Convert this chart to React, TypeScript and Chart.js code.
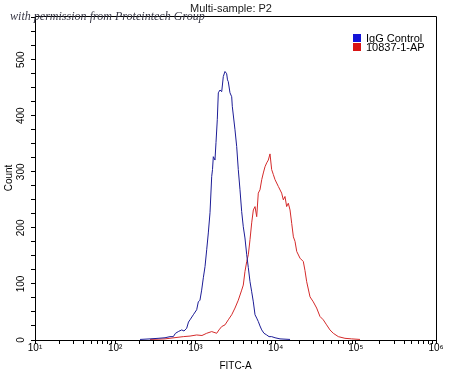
import React, { useEffect, useRef } from "react";
import { Chart, registerables } from "chart.js";

Chart.register(...registerables);

const TITLE = "Multi-sample: P2";
const WATERMARK = "with permission from Proteintech Group";
const X_TITLE = "FITC-A";
const Y_TITLE = "Count";
const SERIES_LABELS = ["IgG Control", "10837-1-AP"];
const LINE_COLORS = ["#1c1c96", "#d42a2a"];
const LEGEND_COLORS = ["#1414d8", "#d81414"];

const X_MIN = 10;
const X_MAX = 1000000;
const X_TICKS = [
  10, 20, 30, 40, 50, 60, 70, 80, 90,
  100, 200, 300, 400, 500, 600, 700, 800, 900,
  1000, 2000, 3000, 4000, 5000, 6000, 7000, 8000, 9000,
  10000, 20000, 30000, 40000, 50000, 60000, 70000, 80000, 90000,
  100000, 200000, 300000, 400000, 500000, 600000, 700000, 800000, 900000,
  1000000,
];
const X_MAJOR = [10, 100, 1000, 10000, 100000, 1000000];
const X_TICK_LABELS = ["10¹", "10²", "10³", "10⁴", "10⁵", "10⁶"];
const Y_MAX = 578;
const Y_STEP = 25;
const Y_LABEL_STEP = 100;

const BLUE_X = [
  204, 272, 342, 418, 482, 530, 565, 612, 675, 721,
  779, 820, 857, 942, 1038, 1087, 1140, 1197, 1256, 1318,
  1383, 1449, 1521, 1597, 1634, 1673, 1754, 1806, 1875, 1931,
  2027, 2128, 2228, 2339, 2455, 2513, 2570, 2698, 2835, 2884,
  3117, 3273, 3426, 3597, 3776, 3955, 4150, 4365, 4570, 4797,
  5035, 5276, 5538, 5814, 6084, 6387, 6714, 7166, 7745, 8277,
  8933, 9840, 11350, 15130,
];
const BLUE_Y = [
  1, 2, 3, 4, 6, 6, 12, 15, 18, 16,
  21, 32, 36, 45, 54, 68, 71, 89, 111, 131,
  161, 191, 227, 292, 304, 327, 321, 352, 393, 441,
  446, 443, 470, 479, 475, 464, 461, 441, 434, 417,
  375, 345, 304, 268, 229, 202, 182, 152, 129, 104,
  86, 68, 45, 39, 33, 25, 18, 12, 9, 6,
  6, 4, 2, 1,
];

const RED_X = [
  272, 418, 706, 857, 1038, 1208, 1383, 1597, 1844, 1968,
  2128, 2339, 2570, 2835, 3117, 3426, 3776, 3955, 4150, 4365,
  4570, 4797, 5035, 5276, 5538, 5814, 6084, 6387, 6714, 7031,
  7376, 7745, 8110, 8515, 8933, 9380, 9840, 10810, 11900, 12480,
  13090, 13740, 14400, 15130, 15880, 16660, 17460, 18340, 20140, 22150,
  23240, 24410, 26850, 29530, 32500, 35750, 39320, 43250, 47620, 52390,
  60530, 73280, 88900, 112800,
];
const RED_Y = [
  1, 2, 6, 7, 9, 8, 12, 15, 12, 18,
  24, 27, 36, 45, 57, 71, 89, 98, 122, 140,
  152, 179, 209, 232, 238, 220, 262, 268, 286, 298,
  309, 316, 321, 332, 304, 295, 286, 274, 262, 250,
  256, 238, 244, 232, 208, 184, 176, 158, 146, 140,
  124, 104, 77, 68, 57, 42, 36, 27, 18, 12,
  6, 3, 2, 1,
];

const FONT = '"Liberation Sans", Arial, sans-serif';

const decorPlugin = {
  id: "decor",
  afterDraw(chart: any) {
    const { ctx, chartArea } = chart;
    const l = Math.round(chartArea.left - 0.5) + 0.5;
    const t = Math.round(chartArea.top - 0.5) + 0.5;
    const r = Math.round(chartArea.right - 0.5) + 0.5;
    const b = Math.round(chartArea.bottom - 0.5) + 0.5;
    ctx.save();
    ctx.strokeStyle = "#000";
    ctx.lineWidth = 1;
    ctx.beginPath();
    ctx.moveTo(l, t);
    ctx.lineTo(r, t);
    ctx.lineTo(r, b);
    ctx.stroke();

    // title
    ctx.fillStyle = "#1a1a1a";
    ctx.font = `11px ${FONT}`;
    ctx.textAlign = "center";
    ctx.textBaseline = "alphabetic";
    ctx.fillText(TITLE, 231, 12);

    // watermark
    ctx.font = `italic 13px "Liberation Serif", serif`;
    const w = ctx.measureText(WATERMARK).width;
    const size = (13 * 195) / w;
    ctx.font = `italic ${size.toFixed(2)}px "Liberation Serif", serif`;
    ctx.fillStyle = "#3a3a48";
    ctx.textAlign = "left";
    ctx.fillText(WATERMARK, 10, 20);

    // legend
    ctx.font = `11px ${FONT}`;
    ctx.textBaseline = "middle";
    const ys = [34, 43];
    chart.data.datasets.forEach((ds: any, i: number) => {
      ctx.fillStyle = LEGEND_COLORS[i];
      ctx.fillRect(353, ys[i], 8, 8);
      ctx.fillStyle = "#000";
      ctx.fillText(ds.label, 366, ys[i] + 4.5);
    });
    ctx.restore();
  },
};

export default function App() {
  const ref = useRef<HTMLCanvasElement>(null);
  useEffect(() => {
    const canvas = ref.current!;
    Chart.defaults.font.family = FONT;
    const chart = new Chart(canvas, {
      type: "line",
      data: {
        datasets: [
          {
            label: SERIES_LABELS[0],
            data: BLUE_X.map((x, i) => ({ x, y: BLUE_Y[i] })),
            borderColor: LINE_COLORS[0],
            borderWidth: 1,
            pointRadius: 0,
            tension: 0,
            fill: false,
          },
          {
            label: SERIES_LABELS[1],
            data: RED_X.map((x, i) => ({ x, y: RED_Y[i] })),
            borderColor: LINE_COLORS[1],
            borderWidth: 1,
            pointRadius: 0,
            tension: 0,
            fill: false,
          },
        ],
      },
      options: {
        animation: false,
        responsive: false,
        devicePixelRatio: 1,
        layout: { padding: { top: 16, right: 14, left: 0, bottom: 0 } },
        plugins: {
          legend: { display: false },
          tooltip: { enabled: false },
          title: { display: false },
        },
        scales: {
          x: {
            type: "logarithmic",
            min: X_MIN,
            max: X_MAX,
            afterBuildTicks: (s: any) => {
              s.ticks = X_TICKS.map((v) => ({ value: v }));
            },
            afterFit: (s: any) => {
              s.height = 32;
            },
            grid: {
              display: true,
              drawOnChartArea: false,
              drawTicks: true,
              tickLength: 4,
              color: "#000",
              tickColor: "#000",
            },
            border: { display: true, color: "#000", width: 1 },
            ticks: {
              autoSkip: false,
              maxRotation: 0,
              minRotation: 0,
              padding: -2,
              color: "#000",
              font: { size: 10 },
              callback: (v: any) => {
                const i = X_MAJOR.indexOf(Number(v));
                return i >= 0 ? X_TICK_LABELS[i] : "";
              },
            },
            title: {
              display: true,
              text: X_TITLE,
              color: "#000",
              font: { size: 10 },
              padding: { top: 0, bottom: 0 },
            },
          },
          y: {
            type: "linear",
            min: 0,
            max: Y_MAX,
            afterFit: (s: any) => {
              s.width = 35;
            },
            grid: {
              display: true,
              drawOnChartArea: false,
              drawTicks: true,
              tickLength: 4,
              color: "#000",
              tickColor: "#000",
            },
            border: { display: true, color: "#000", width: 1 },
            ticks: {
              stepSize: Y_STEP,
              includeBounds: false,
              autoSkip: false,
              minRotation: 90,
              maxRotation: 90,
              crossAlign: "center",
              padding: 1,
              color: "#000",
              font: { size: 10 },
              callback: (v: any) => (Number(v) % Y_LABEL_STEP === 0 ? String(v) : ""),
            },
            title: {
              display: true,
              text: Y_TITLE,
              color: "#000",
              font: { size: 10 },
              padding: { top: 3, bottom: 0 },
            },
          },
        },
      },
      plugins: [decorPlugin],
    } as any);
    return () => chart.destroy();
  }, []);
  return (
    <div style={{ position: "fixed", left: 0, top: 0, width: 450, height: 372, background: "#fff" }}>
      <canvas ref={ref} width={450} height={372} style={{ display: "block", width: 450, height: 372 }} />
    </div>
  );
}
